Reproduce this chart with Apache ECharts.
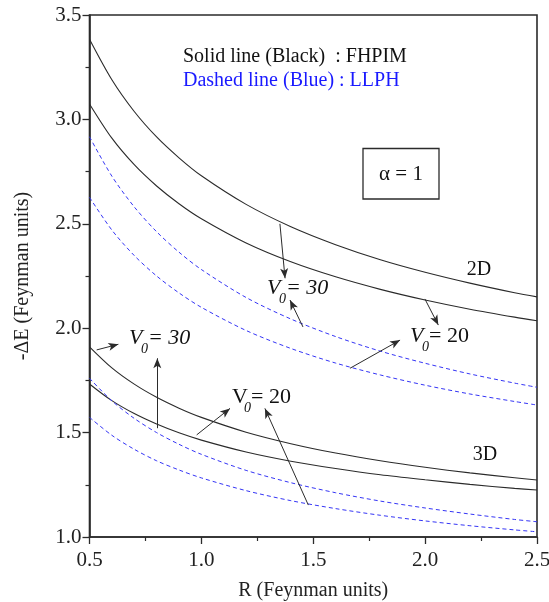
<!DOCTYPE html>
<html>
<head>
<meta charset="utf-8">
<script src="https://cdn.jsdelivr.net/npm/echarts@6/dist/echarts.min.js"></script>
<style>
  html, body { margin: 0; padding: 0; background: #fff; }
  #chart { width: 549px; height: 602px; }
</style>
</head>
<body>
<div id="chart"></div>
<script>
// Binding energy -ΔE versus confinement radius R (alpha = 1)
const R = [0.5, 0.6, 0.7, 0.8, 0.9, 1.0, 1.2, 1.4, 1.6, 1.8, 2.0, 2.2, 2.4, 2.5];

// FHPIM (solid, black)
const fhpim2D_V30 = [3.384, 3.190, 3.038, 2.916, 2.816, 2.730, 2.593, 2.486, 2.400, 2.328, 2.268, 2.216, 2.170, 2.150];
const fhpim2D_V20 = [3.074, 2.910, 2.783, 2.681, 2.596, 2.524, 2.408, 2.318, 2.246, 2.186, 2.135, 2.091, 2.053, 2.036];
const fhpim3D_V30 = [1.911, 1.810, 1.732, 1.669, 1.617, 1.573, 1.502, 1.447, 1.402, 1.365, 1.334, 1.307, 1.284, 1.273];
const fhpim3D_V20 = [1.733, 1.653, 1.591, 1.541, 1.499, 1.464, 1.407, 1.363, 1.328, 1.298, 1.274, 1.252, 1.233, 1.225];

// LLPH (dashed, blue)
const llph2D_V30 = [2.917, 2.728, 2.581, 2.462, 2.364, 2.281, 2.147, 2.044, 1.960, 1.890, 1.832, 1.781, 1.737, 1.717];
const llph2D_V20 = [2.627, 2.470, 2.348, 2.250, 2.169, 2.100, 1.989, 1.903, 1.833, 1.776, 1.727, 1.685, 1.649, 1.632];
const llph3D_V30 = [1.760, 1.652, 1.568, 1.500, 1.444, 1.396, 1.319, 1.260, 1.212, 1.172, 1.139, 1.110, 1.084, 1.073];
const llph3D_V20 = [1.573, 1.487, 1.420, 1.365, 1.321, 1.283, 1.222, 1.174, 1.136, 1.104, 1.077, 1.054, 1.034, 1.025];

// Arrows from a curve to its V0 label: [R, E] start -> [R, E] head
const arrows = [
  [[1.351, 2.500], [1.374, 2.239]],
  [[1.454, 2.006], [1.396, 2.135]],
  [[1.999, 2.140], [2.059, 2.015]],
  [[1.664, 1.808], [1.888, 1.943]],
  [[0.532, 1.896], [0.629, 1.923]],
  [[0.803, 1.521], [0.803, 1.856]],
  [[0.979, 1.489], [1.128, 1.616]],
  [[1.478, 1.153], [1.284, 1.616]]
];

const SERIF = '"Liberation Serif", "Times New Roman", serif';
const INK = '#2b2b2b';
const BLUE = '#3535f5';

function pairs(ys) { return R.map((r, i) => [r, ys[i]]); }

function solid(name, ys) {
  return {
    name, type: 'line', data: pairs(ys), smooth: 0.3, showSymbol: false, silent: true,
    lineStyle: { color: INK, width: 1.1 }
  };
}
function dashed(name, ys) {
  return {
    name, type: 'line', data: pairs(ys), smooth: 0.3, showSymbol: false, silent: true,
    lineStyle: { color: BLUE, width: 1, type: [4, 3] }
  };
}

const series = [
  solid('FHPIM 2D V0=30', fhpim2D_V30),
  solid('FHPIM 2D V0=20', fhpim2D_V20),
  solid('FHPIM 3D V0=30', fhpim3D_V30),
  solid('FHPIM 3D V0=20', fhpim3D_V20),
  dashed('LLPH 2D V0=30', llph2D_V30),
  dashed('LLPH 2D V0=20', llph2D_V20),
  dashed('LLPH 3D V0=30', llph3D_V30),
  dashed('LLPH 3D V0=20', llph3D_V20)
];
series[0].markLine = {
  silent: true,
  symbol: ['none', 'arrow'],
  symbolSize: [6, 10],
  label: { show: false },
  lineStyle: { color: INK, width: 1, type: 'solid' },
  data: arrows.map(a => [{ coord: a[0] }, { coord: a[1] }])
};

const axisCommon = {
  type: 'value',
  interval: 0.5,
  axisLine: { show: true, lineStyle: { color: INK, width: 1.6 } },
  axisTick: { show: true, inside: false, length: 7, lineStyle: { color: INK, width: 1.3 } },
  minorTick: { show: true, splitNumber: 2, length: 4, lineStyle: { color: INK, width: 1.2 } },
  splitLine: { show: false },
  axisLabel: {
    color: '#222', fontSize: 21, fontFamily: SERIF,
    formatter: v => v.toFixed(1)
  },
  nameLocation: 'middle',
  nameTextStyle: { color: '#222', fontSize: 20, fontFamily: SERIF }
};

// Label pieces: V, subscript 0, and "= value"
function v0Label(x, base, value, italicValue, italicV) {
  return [
    { type: 'text', x: x, y: base, style: { text: 'V', font: (italicV ? 'italic ' : '') + '22px ' + SERIF, fill: '#111', verticalAlign: 'bottom' } },
    { type: 'text', x: x + 12, y: base + 7, style: { text: '0', font: 'italic 14px ' + SERIF, fill: '#111', verticalAlign: 'bottom' } },
    { type: 'text', x: x + 19, y: base, style: { text: '= ' + value, font: (italicValue ? 'italic ' : '') + '22px ' + SERIF, fill: '#111', verticalAlign: 'bottom' } }
  ];
}

const graphics = [
  { type: 'text', x: 183, y: 57, style: { text: 'Solid line (Black)  : FHPIM', font: '20px ' + SERIF, fill: '#111', verticalAlign: 'middle' } },
  { type: 'text', x: 183, y: 81, style: { text: 'Dashed line (Blue) : LLPH', font: '20px ' + SERIF, fill: '#1a1aff', verticalAlign: 'middle' } },
  { type: 'rect', shape: { x: 363, y: 148.5, width: 76, height: 50.5 }, style: { fill: 'none', stroke: INK, lineWidth: 1.3 } },
  { type: 'text', x: 401, y: 174, style: { text: 'α = 1', font: '21px ' + SERIF, fill: '#111', align: 'center', verticalAlign: 'middle' } },
  { type: 'text', x: 479, y: 270, style: { text: '2D', font: '20px ' + SERIF, fill: '#111', align: 'center', verticalAlign: 'middle' } },
  { type: 'text', x: 485, y: 455, style: { text: '3D', font: '20px ' + SERIF, fill: '#111', align: 'center', verticalAlign: 'middle' } }
].concat(
  v0Label(267, 299, '30', true, true),
  v0Label(410, 347, '20', false, true),
  v0Label(129, 349, '30', true, true),
  v0Label(232, 408, '20', false, false)
);

const option = {
  animation: false,
  backgroundColor: '#fff',
  grid: {
    left: 89.5, right: 12, top: 15, bottom: 65,
    containLabel: false, outerBoundsMode: 'none',
    show: true, borderColor: INK, borderWidth: 1.6
  },
  xAxis: Object.assign({}, axisCommon, {
    min: 0.5, max: 2.5,
    name: 'R (Feynman units)', nameGap: 44,
    axisLabel: Object.assign({}, axisCommon.axisLabel, { margin: 13 })
  }),
  yAxis: Object.assign({}, axisCommon, {
    min: 1.0, max: 3.5,
    name: '-ΔE (Feynman units)', nameGap: 57,
    axisLabel: Object.assign({}, axisCommon.axisLabel, { margin: 8 })
  }),
  series: series,
  graphic: graphics
};

const chart = echarts.init(document.getElementById('chart'), null, { renderer: 'canvas' });
chart.setOption(option);
</script>
</body>
</html>
